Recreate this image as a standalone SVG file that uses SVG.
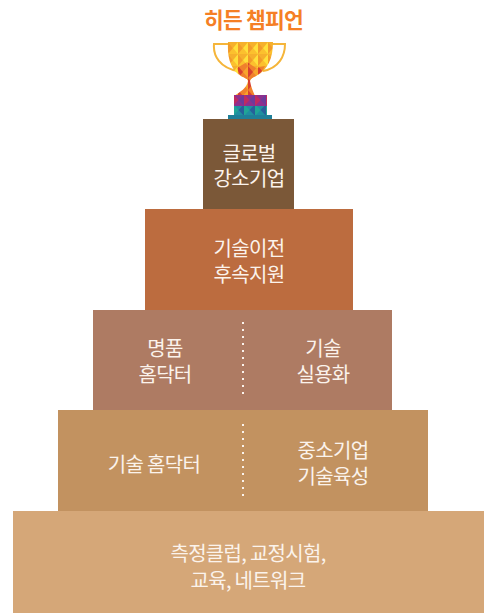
<svg xmlns="http://www.w3.org/2000/svg" width="484" height="613" viewBox="0 0 484 613">
<style>
.t{font-family:"Noto Sans CJK KR","Noto Sans",sans-serif;font-size:20px;fill:#fbf3ec;text-anchor:middle;letter-spacing:-.7px}
.d{stroke:#fbf3ec;stroke-width:2;stroke-dasharray:2 5;fill:none}
</style>
<defs>
<pattern id="gold" width="10" height="12" patternUnits="userSpaceOnUse" x="228" y="42">
<rect width="10" height="12" fill="#fcc02e"/>
<polygon points="0,0 5,6 0,12" fill="#f39a2a"/>
<polygon points="5,6 10,0 10,12" fill="#ffe03a"/>
<polygon points="0,0 10,0 5,6" fill="#f6b02c"/>
</pattern>
<pattern id="fire" width="10" height="12" patternUnits="userSpaceOnUse" x="228" y="42">
<rect width="10" height="12" fill="#f0802c"/>
<polygon points="0,0 5,6 0,12" fill="#d8402e"/>
<polygon points="5,6 10,0 10,12" fill="#f7a52c"/>
</pattern>
<pattern id="jewel" width="11" height="12" patternUnits="userSpaceOnUse" x="233" y="94">
<rect width="11" height="12" fill="#8e2f8e"/>
<polygon points="0,0 5.5,6 0,12" fill="#c02a60"/>
<polygon points="5.5,6 11,0 11,12" fill="#6d3a9a"/>
</pattern>
<pattern id="teal" width="11" height="12" patternUnits="userSpaceOnUse" x="233" y="104">
<rect width="11" height="12" fill="#1f8fa0"/>
<polygon points="0,0 5.5,6 0,12" fill="#20a596"/>
<polygon points="5.5,6 11,0 11,12" fill="#26609a"/>
</pattern>
</defs>
<g id="title"><text x="253.500" y="27.500" style="font-family:'Noto Sans CJK KR','Noto Sans',sans-serif;font-size:21.500px;font-weight:700;fill:#f57f25;text-anchor:middle;letter-spacing:-.8px">히든 챔피언</text></g>
<g id="trophy">
<path d="M229 44H214C213 56 220 68 238 71M272 44H285C285 56 279 68 263 71" fill="none" stroke="#f5b53a" stroke-width="2"/>
<path d="M228 42H273C273 58 268 70 256 76C252 78 250 79 250 81H248C248 79 245 78 241 76C231 70 227 58 228 42Z" fill="url(#gold)"/>
<path d="M237 68L247 62L256 68L265 66C263 71 259 74 256 76C252 78 250 79 250 81H248C248 79 245 78 241 76C239 74 238 71 237 68Z" fill="url(#fire)"/>
<path d="M248 81H250C251 87 253 91 255 96H234C240 92 247 88 248 81Z" fill="url(#fire)"/>
<rect x="234" y="95" width="33" height="11" fill="url(#jewel)"/>
<rect x="234" y="106" width="33" height="10" fill="url(#teal)"/>
<rect x="228" y="115" width="44" height="4" fill="#1f7f98"/>
</g>
<g id="tier5"><rect x="203" y="119" width="91" height="90" fill="#7b5838"/>
<text class="t" x="249" y="161">글로벌</text><text class="t" x="249" y="186">강소기업</text></g>
<g id="tier4"><rect x="145" y="209" width="208" height="101" fill="#bc6c3f"/>
<text class="t" x="249" y="256">기술이전</text><text class="t" x="249" y="282">후속지원</text></g>
<g id="tier3"><rect x="93" y="310" width="299" height="100" fill="#ae7b63"/>
<text class="t" x="165" y="356">명품</text><text class="t" x="165" y="382">홈닥터</text>
<text class="t" x="323" y="356">기술</text><text class="t" x="323" y="382">실용화</text></g>
<g id="tier2"><rect x="58" y="410" width="370" height="101" fill="#c29260"/>
<text class="t" x="154" y="472">기술 홈닥터</text>
<text class="t" x="333" y="458">중소기업</text><text class="t" x="333" y="484">기술육성</text></g>
<g id="tier1"><rect x="13" y="511" width="471" height="102" fill="#d5a778"/>
<text class="t" x="248" y="561">측정클럽, 교정시험,</text><text class="t" x="248" y="588">교육, 네트워크</text></g>
<g id="connectors">
<path class="d" d="M243 322V398"/>
<path class="d" d="M243 424V500"/>
</g>
</svg>
